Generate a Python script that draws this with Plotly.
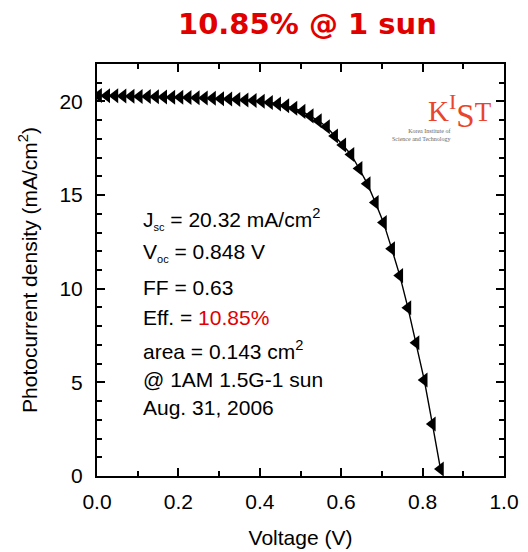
import plotly.graph_objects as go

# Data
voltage = [0.004, 0.024, 0.044, 0.064, 0.084, 0.104, 0.124, 0.144, 0.164, 0.184,
           0.204, 0.224, 0.244, 0.264, 0.284, 0.304, 0.324, 0.344, 0.364, 0.384,
           0.404, 0.424, 0.444, 0.464, 0.484, 0.504, 0.524, 0.544, 0.564, 0.584,
           0.604, 0.624, 0.644, 0.664, 0.684, 0.704, 0.724, 0.744, 0.764, 0.784,
           0.804, 0.824, 0.844]
current = [20.32, 20.31, 20.30, 20.29, 20.28, 20.27, 20.26, 20.25, 20.24, 20.23,
           20.22, 20.21, 20.20, 20.19, 20.17, 20.15, 20.13, 20.11, 20.08, 20.05,
           20.01, 19.95, 19.87, 19.77, 19.64, 19.47, 19.23, 18.97, 18.65, 18.16,
           17.68, 17.17, 16.42, 15.61, 14.60, 13.53, 12.14, 10.70, 8.98, 7.11,
           5.13, 2.78, 0.37]

x_ticks = [0.0, 0.2, 0.4, 0.6, 0.8, 1.0]
y_ticks = [0, 5, 10, 15, 20]

SUB = "<sub><span style='font-size:11px'>{}</span></sub>"
info_lines = [
    "J" + SUB.format("sc") + " = 20.32 mA/cm<sup>2</sup>",
    "V" + SUB.format("oc") + " = 0.848 V",
    "FF = 0.63",
    "Eff. = <span style='color:#e00000'>10.85%</span>",
    "area = 0.143 cm<sup>2</sup>",
    "@ 1AM 1.5G-1 sun",
    "Aug. 31, 2006",
]
info_y = [13.7, 11.95, 10.05, 8.45, 6.75, 5.13, 3.64]

OFF = 8  # default page body margin
W, H = 528 - OFF, 552 - OFF
L, R, T, B = 97 - OFF, 24, 64 - OFF, 76

fig = go.Figure()
fig.add_trace(go.Scatter(
    x=voltage, y=current, mode="lines+markers",
    line=dict(color="black", width=1.4),
    marker=dict(symbol="triangle-left", size=13, color="black"),
    showlegend=False,
))

font_main = "Liberation Sans, Arial, sans-serif"

axis_common = dict(
    showline=True, linecolor="black", linewidth=2, mirror="allticks",
    ticks="inside", ticklen=8, tickwidth=1.5, tickcolor="black",
    showgrid=False, zeroline=False, automargin=False,
    tickfont=dict(family=font_main, size=21, color="black"),
)

fig.update_xaxes(
    range=[0, 1], tickvals=x_ticks, ticktext=[f"{v:.1f}" for v in x_ticks],
    minor=dict(dtick=0.1, ticks="inside", ticklen=5, tickwidth=1.5, tickcolor="black"),
    title=dict(text="Voltage (V)", font=dict(family=font_main, size=21, color="black"), standoff=18),
    ticklabelstandoff=6,
    **axis_common,
)
fig.update_yaxes(
    range=[0, 22], tickvals=y_ticks, ticktext=[str(v) for v in y_ticks],
    minor=dict(dtick=1, ticks="inside", ticklen=5, tickwidth=1.5, tickcolor="black"),
    title=dict(text="Photocurrent density (mA/cm<sup>2</sup>)",
               font=dict(family=font_main, size=21, color="black"), standoff=16),
    ticklabelstandoff=8,
    **axis_common,
)


def px(xp):
    return (xp - OFF - L) / (W - L - R)


def py(yp):
    return (H - (yp - OFF) - B) / (H - T - B)


annotations = []
for txt, yy in zip(info_lines, info_y):
    annotations.append(dict(
        x=0.108, y=yy, xref="x", yref="y", text=txt, showarrow=False,
        xanchor="left", yanchor="middle",
        font=dict(family=font_main, size=21, color="black"),
    ))

# Title
annotations.append(dict(
    x=px(307.5), y=py(23.5),
    xref="paper", yref="paper", text="<b>10.85% @ 1 sun</b>", showarrow=False,
    xanchor="center", yanchor="middle",
    font=dict(family="DejaVu Sans, Verdana, sans-serif", size=29, color="#e00000"),
))

# KIST logo
logo_red = "#e8452c"
annotations.append(dict(
    x=px(460), y=py(112), xref="paper", yref="paper",
    text="K<sup><span style='font-size:22px'>I</span></sup>"
         "<sub><span style='font-size:33px'>S</span></sub>"
         "<span style='font-size:27px'>T</span>",
    showarrow=False, xanchor="center", yanchor="middle",
    font=dict(family="Liberation Serif, Times New Roman, serif", size=29, color=logo_red),
))
annotations.append(dict(
    x=px(452), y=py(135), xref="paper", yref="paper",
    text="Korea Institute of<br>Science and Technology", showarrow=False,
    xanchor="right", yanchor="middle", align="right",
    font=dict(family="Liberation Serif, serif", size=6, color="#666666"),
))

fig.update_layout(
    width=W, height=H,
    margin=dict(l=L, r=R, t=T, b=B),
    paper_bgcolor="white", plot_bgcolor="white",
    annotations=annotations,
)

fig.write_html("out.html")
